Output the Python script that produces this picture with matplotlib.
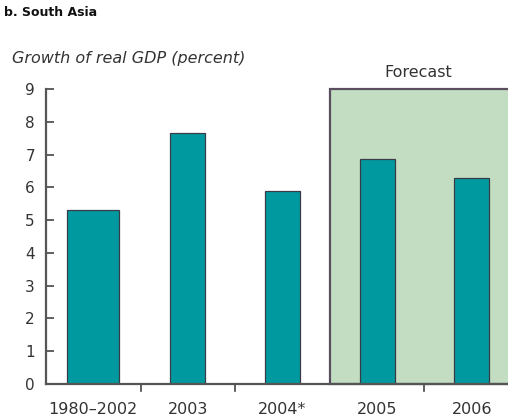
import matplotlib.pyplot as plt
from matplotlib.patches import Rectangle

# growth of real GDP, South Asia (percent)
periods = ['1980\u20132002', '2003', '2004*', '2005', '2006']
growth = [5.3, 7.65, 5.9, 6.85, 6.3]
forecast_start = 3  # index of first forecast period

plt.rcParams['font.family'] = ['DejaVu Sans']

fig = plt.figure(figsize=(5.08, 4.19), dpi=100)
W, H = 508.0, 419.0
# axes spans the five periods; last one runs past the right edge
ax = fig.add_axes([46 / W, 35 / H, 473 / W, 295 / H])

teal = '#00999f'
edge = '#3b3b48'
widths = [0.55] + [0.37] * (len(periods) - 1)
x = list(range(len(periods)))
ax.bar(x, growth, width=widths, color=teal, edgecolor=edge, linewidth=0.9, zorder=3)

# shaded forecast panel
ax.add_patch(Rectangle((forecast_start - 0.5, 0), len(periods) - forecast_start + 0.5, 9,
                       facecolor='#c2ddc1', edgecolor='#5b4e5e', linewidth=1.6,
                       zorder=1, clip_on=False))
ax.text(forecast_start + 0.43, 9.5, 'Forecast', ha='center', va='center',
        fontsize=11.5, color='#333333')

ax.set_xlim(-0.5, len(periods) - 0.5)
ax.set_ylim(0, 9)
ax.set_yticks(range(10))
ax.tick_params(axis='y', direction='in', length=6, width=1.2, colors='#444444',
               labelcolor='#333333', labelsize=11, pad=8)

# period labels centred on bars, ticks between periods
ax.set_xticks(x)
ax.set_xticklabels(periods, fontsize=11.5, color='#333333')
ax.tick_params(axis='x', length=0, pad=13)
for b in [0.5, 1.5, 3.5]:
    ax.plot([b, b], [0, -0.2], color='#444444', lw=1.2, clip_on=False, zorder=4)

for s in ['top', 'right']:
    ax.spines[s].set_visible(False)
ax.spines['left'].set_color('#555555')
ax.spines['left'].set_linewidth(1.6)
ax.spines['bottom'].set_color('#555555')
ax.spines['bottom'].set_linewidth(1.6)
ax.spines['bottom'].set_zorder(5)

fig.text(4 / W, 1 - 13 / H, 'b. South Asia', fontsize=9, fontweight='bold',
         va='center', ha='left', color='#111111')
fig.text(12 / W, 1 - 59 / H, 'Growth of real GDP (percent)', fontsize=11.5,
         style='italic', va='center', ha='left', color='#333333')

fig.savefig('out.png', dpi=100)
